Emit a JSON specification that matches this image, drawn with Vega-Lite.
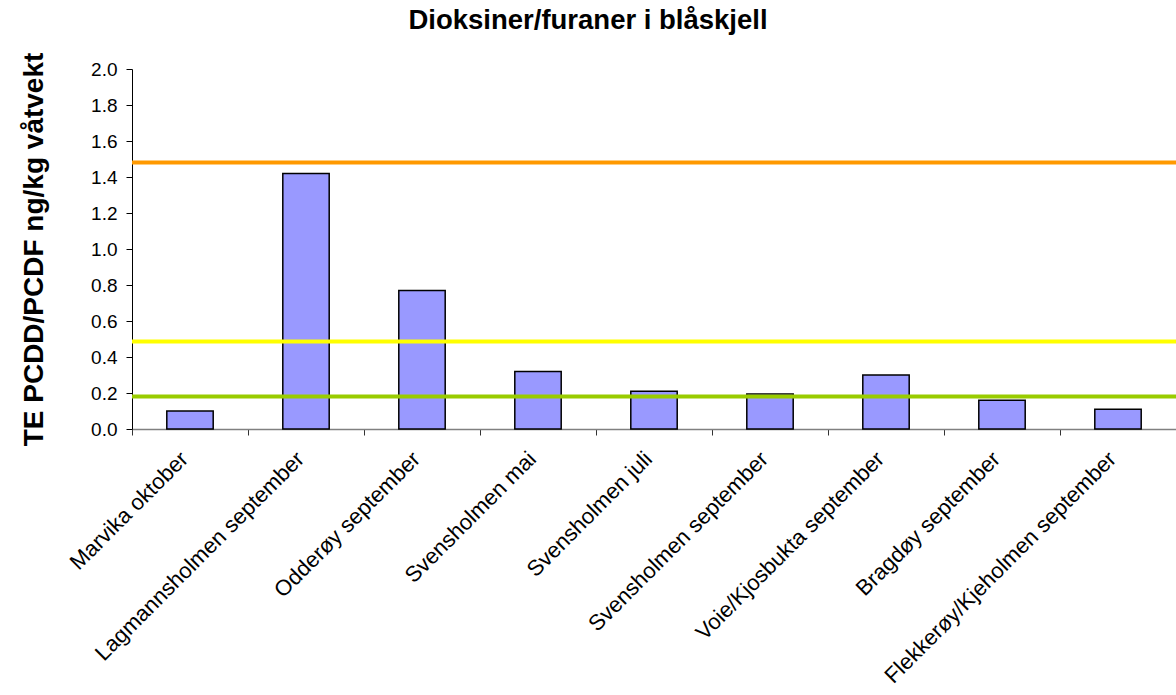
{
  "$schema": "https://vega.github.io/schema/vega-lite/v6.json",
  "width": 1044,
  "height": 360,
  "autosize": {"type": "none"},
  "padding": {"left": 132, "top": 69, "right": 0, "bottom": 266},
  "background": "white",
  "title": {
    "text": "Dioksiner/furaner i blåskjell",
    "font": "Liberation Sans",
    "fontSize": 27.5,
    "fontWeight": "bold",
    "color": "black",
    "anchor": "middle",
    "frame": "group",
    "dx": -66,
    "offset": 18
  },
  "config": {"view": {"stroke": null}, "axis": {"grid": false}},
  "datasets": {
    "bars": [
      {"stasjon": "Marvika oktober", "verdi": 0.10},
      {"stasjon": "Lagmannsholmen september", "verdi": 1.42},
      {"stasjon": "Odderøy september", "verdi": 0.77},
      {"stasjon": "Svensholmen mai", "verdi": 0.32},
      {"stasjon": "Svensholmen juli", "verdi": 0.21},
      {"stasjon": "Svensholmen september", "verdi": 0.195},
      {"stasjon": "Voie/Kjosbukta september", "verdi": 0.30},
      {"stasjon": "Bragdøy september", "verdi": 0.16},
      {"stasjon": "Flekkerøy/Kjeholmen september", "verdi": 0.11}
    ],
    "limits": [
      {"klasse": "grense3", "grense": 1.48},
      {"klasse": "grense2", "grense": 0.486},
      {"klasse": "grense1", "grense": 0.18}
    ]
  },
  "layer": [
    {
      "data": {"name": "bars"},
      "mark": {"type": "bar", "width": {"band": 0.4}, "fill": "#9999FF", "stroke": "black", "strokeWidth": 1.5},
      "encoding": {
        "x": {
          "field": "stasjon",
          "type": "nominal",
          "sort": null,
          "scale": {"paddingInner": 0, "paddingOuter": 0},
          "axis": {
            "title": null,
            "labelAngle": -45,
            "labelAlign": "right",
            "labelBaseline": "middle",
            "labelFont": "Liberation Sans",
            "labelFontSize": 22,
            "labelColor": "black",
            "labelLimit": 0,
            "labelOverlap": false,
            "labelBound": false,
            "tickBand": "extent",
            "labelOffset": -6,
            "labelPadding": 20,
            "tickSize": 6,
            "tickColor": "#333333",
            "domainColor": "#808080",
            "domainWidth": 1.5
          }
        },
        "y": {
          "field": "verdi",
          "type": "quantitative",
          "scale": {"domain": [0, 2], "nice": false, "zero": true},
          "axis": {
            "title": "TE PCDD/PCDF ng/kg våtvekt",
            "titleFont": "Liberation Sans",
            "titleFontSize": 28,
            "titleFontWeight": "bold",
            "titleColor": "black",
            "titlePadding": 42,
            "values": [0, 0.2, 0.4, 0.6, 0.8, 1.0, 1.2, 1.4, 1.6, 1.8, 2.0],
            "tickCount": 11,
            "format": ".1f",
            "labelFont": "Liberation Sans",
            "labelFontSize": 19,
            "labelColor": "black",
            "labelOverlap": false,
            "labelPadding": 9,
            "tickSize": 6,
            "tickColor": "black",
            "domainColor": "black",
            "domainWidth": 1
          }
        }
      }
    },
    {
      "data": {"name": "limits"},
      "mark": {"type": "rule", "strokeWidth": 4},
      "encoding": {
        "y": {
          "field": "grense",
          "type": "quantitative",
          "axis": {
            "title": "TE PCDD/PCDF ng/kg våtvekt",
            "titleFont": "Liberation Sans",
            "titleFontSize": 28,
            "titleFontWeight": "bold",
            "titleColor": "black",
            "titlePadding": 42,
            "values": [0, 0.2, 0.4, 0.6, 0.8, 1.0, 1.2, 1.4, 1.6, 1.8, 2.0],
            "tickCount": 11,
            "format": ".1f",
            "labelFont": "Liberation Sans",
            "labelFontSize": 19,
            "labelColor": "black",
            "labelOverlap": false,
            "labelPadding": 9,
            "tickSize": 6,
            "tickColor": "black",
            "domainColor": "black",
            "domainWidth": 1
          }
        },
        "color": {
          "field": "klasse",
          "type": "nominal",
          "scale": {"domain": ["grense3", "grense2", "grense1"], "range": ["#FF9900", "#FFFF00", "#99CC00"]},
          "legend": null
        }
      }
    }
  ]
}
